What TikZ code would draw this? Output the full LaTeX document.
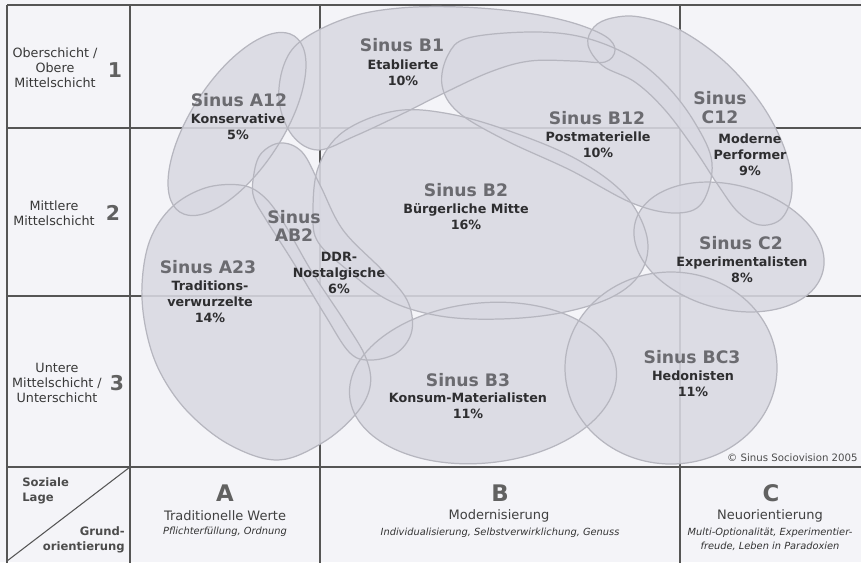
\documentclass[tikz,border=0pt]{standalone}
\usepackage{fontspec}
\setmainfont{DejaVu Sans}

\definecolor{paper}{HTML}{F4F4F8}
\definecolor{blobfill}{HTML}{D9D9E2}
\definecolor{blobrim}{HTML}{B6B6BF}
\definecolor{gridgray}{HTML}{555555}
\definecolor{titlegray}{HTML}{6B6B70}
\definecolor{inkdark}{HTML}{2E2E30}

\newcommand\fs[2]{\fontsize{#1}{#2}\selectfont}

\newcommand\blobAtwelve{[rotate around={57:(237,124)}] (237,124) ellipse [x radius=105, y radius=46]}
\newcommand\blobBone{plot[smooth cycle, tension=0.6] coordinates {(279,100) (285,62) (305,38) (350,17) (400,8) (460,7) (520,12) (570,22) (605,36) (615,50) (605,62) (575,61) (530,61) (490,72) (440,95) (400,115) (355,136) (318,150) (292,135)}}
\newcommand\blobCtwelve{plot[smooth cycle, tension=0.6] coordinates {(588,45) (594,27) (612,18) (640,17) (680,30) (725,62) (762,105) (785,150) (792,190) (782,218) (760,225) (738,212) (718,185) (695,150) (665,110) (635,82) (603,66)}}
\newcommand\blobBtwelve{plot[smooth cycle, tension=0.6] coordinates {(442,85) (448,55) (468,38) (530,32) (582,37) (630,56) (666,85) (695,123) (712,163) (702,203) (675,213) (632,203) (570,170) (505,140) (458,112)}}
\newcommand\blobBtwo{plot[smooth cycle, tension=0.6] coordinates {(313,215) (318,168) (343,132) (395,111) (450,114) (515,133) (578,160) (625,195) (647,237) (641,272) (612,297) (560,313) (500,319) (440,316) (388,300) (345,268) (318,242)}}
\newcommand\blobAtwothree{plot[smooth cycle, tension=0.6] coordinates {(240,185) (205,188) (172,207) (150,240) (142,285) (146,330) (160,372) (188,412) (230,445) (278,460) (322,443) (355,415) (370,387) (366,358) (345,322) (312,272) (282,220) (262,195)}}
\newcommand\blobABtwo{plot[smooth cycle, tension=0.6] coordinates {(253,180) (260,155) (280,143) (302,152) (320,185) (343,230) (382,270) (407,300) (412,330) (398,352) (372,360) (350,353) (325,315) (293,262) (265,218) (254,198)}}
\newcommand\blobBthree{[rotate around={6:(483,383)}] (483,383) ellipse [x radius=134, y radius=80]}
\newcommand\blobBCthree{(671,368) ellipse [x radius=106, y radius=96]}
\newcommand\blobCtwo{[rotate around={-15:(729,247)}] (729,247) ellipse [x radius=97, y radius=62]}

\tikzset{
  frame/.style={draw=gridgray, line width=0.6pt},
  blob/.style={fill=blobfill, fill opacity=0.88},
  rim/.style={draw=blobrim, line width=0.7pt},
  sinus/.style={inner sep=0pt, align=center, text=titlegray, font=\bfseries\fs{9.8}{10.6}},
  milieu/.style={inner sep=0pt, align=center, text=inkdark, font=\bfseries\fs{7.25}{9.2}},
  layer/.style={inner sep=0pt, align=center, text=black!78, font=\fs{7.25}{8.6}},
  rank/.style={inner sep=0pt, text=black!62, font=\bfseries\fs{11.6}{12}},
  axis/.style={inner sep=0pt, text=black!62, font=\bfseries\fs{13}{14}},
  value/.style={inner sep=0pt, text=black!75, font=\fs{7.4}{8}},
  hint/.style={inner sep=0pt, align=center, text=black!80, font=\itshape\fs{5.6}{7.9}},
  corner/.style={inner sep=0pt, text=black!70, font=\bfseries\fs{6.6}{8.8}}
}

\begin{document}
\begin{tikzpicture}[x=0.02cm, y=-0.02cm]
\useasboundingbox (0,0) rectangle (861,562);
\fill[paper] (0,0) rectangle (861,562);

\draw[frame] (7,5)--(863,5);
\draw[frame] (7,5)--(7,563);
\foreach \gx in {130,320,680}
  \draw[frame] (\gx,5)--(\gx,563);
\foreach \gy in {128,296,467}
  \draw[frame] (7,\gy)--(863,\gy);
\draw[frame] (130,467)--(7,561);

\foreach \b in {\blobAtwothree,\blobAtwelve,\blobBone,\blobBtwelve,\blobCtwelve,\blobBtwo,\blobABtwo,\blobBthree,\blobBCthree,\blobCtwo}
  \fill[blob] \b;
\foreach \b in {\blobAtwothree,\blobAtwelve,\blobBone,\blobBtwelve,\blobCtwelve,\blobBtwo,\blobABtwo,\blobBthree,\blobBCthree,\blobCtwo}
  \draw[rim] \b;

\node[sinus] (a12) at (239,100) {Sinus A12};
\node[milieu] (a12t) at (238,126.5) {Konservative\\5\%};
\node[sinus] (b1) at (402,45) {Sinus B1};
\node[milieu] (b1t) at (403,72.5) {Etablierte\\10\%};
\node[sinus] (b12) at (597,118) {Sinus B12};
\node[milieu] (b12t) at (598,145) {Postmaterielle\\10\%};
\node[sinus, font=\bfseries\fs{9.8}{10.8}] (c12) at (720,107.5) {Sinus\\C12};
\node[milieu] (c12t) at (750,155) {Moderne\\Performer\\9\%};
\node[sinus] (b2) at (466,190) {Sinus B2};
\node[milieu] (b2t) at (466,217) {Bürgerliche Mitte\\16\%};
\node[sinus, font=\bfseries\fs{9.8}{10.2}] (ab2) at (294,226) {Sinus\\AB2};
\node[milieu] (ab2t) at (339,273) {DDR-\\Nostalgische\\6\%};
\node[sinus] (a23) at (208,267) {Sinus A23};
\node[milieu] (a23t) at (210,302) {Traditions-\\verwurzelte\\14\%};
\node[sinus] (b3) at (468,380) {Sinus B3};
\node[milieu] (b3t) at (468,405.5) {Konsum-Materialisten\\11\%};
\node[sinus] (c2) at (741,243) {Sinus C2};
\node[milieu] (c2t) at (742,269.5) {Experimentalisten\\8\%};
\node[sinus] (bc3) at (692,357) {Sinus BC3};
\node[milieu] (bc3t) at (693,384) {Hedonisten\\11\%};
\node[inner sep=0pt, anchor=east, text=black!70, font=\fs{5.8}{7}] (copy) at (858,458) {© Sinus Sociovision 2005};

\node[layer] (top) at (55,68) {Oberschicht /\\Obere\\Mittelschicht};
\node[rank] (r1) at (115,70) {1};
\node[layer] (mid) at (54,213) {Mittlere\\Mittelschicht};
\node[rank] (r2) at (113,213) {2};
\node[layer] (low) at (57,383) {Untere\\Mittelschicht /\\Unterschicht};
\node[rank] (r3) at (117,383) {3};

\node[corner, align=left, anchor=west] (lage) at (22,491) {Soziale\\Lage};
\node[corner, align=right, anchor=east] (grund) at (125,540) {Grund-\\orientierung};

\node[axis] (ax) at (225,493) {A};
\node[value] (axv) at (225,516) {Traditionelle Werte};
\node[hint] (axh) at (225,532) {Pflichterfüllung, Ordnung};
\node[axis] (bx) at (500,493) {B};
\node[value] (bxv) at (499,516) {Modernisierung};
\node[hint] (bxh) at (500,533) {Individualisierung, Selbstverwirklichung, Genuss};
\node[axis] (cx) at (771,493) {C};
\node[value] (cxv) at (770,516) {Neuorientierung};
\node[hint] (cxh) at (770,539) {Multi-Optionalität, Experimentier-\\freude, Leben in Paradoxien};
\end{tikzpicture}
\end{document}
